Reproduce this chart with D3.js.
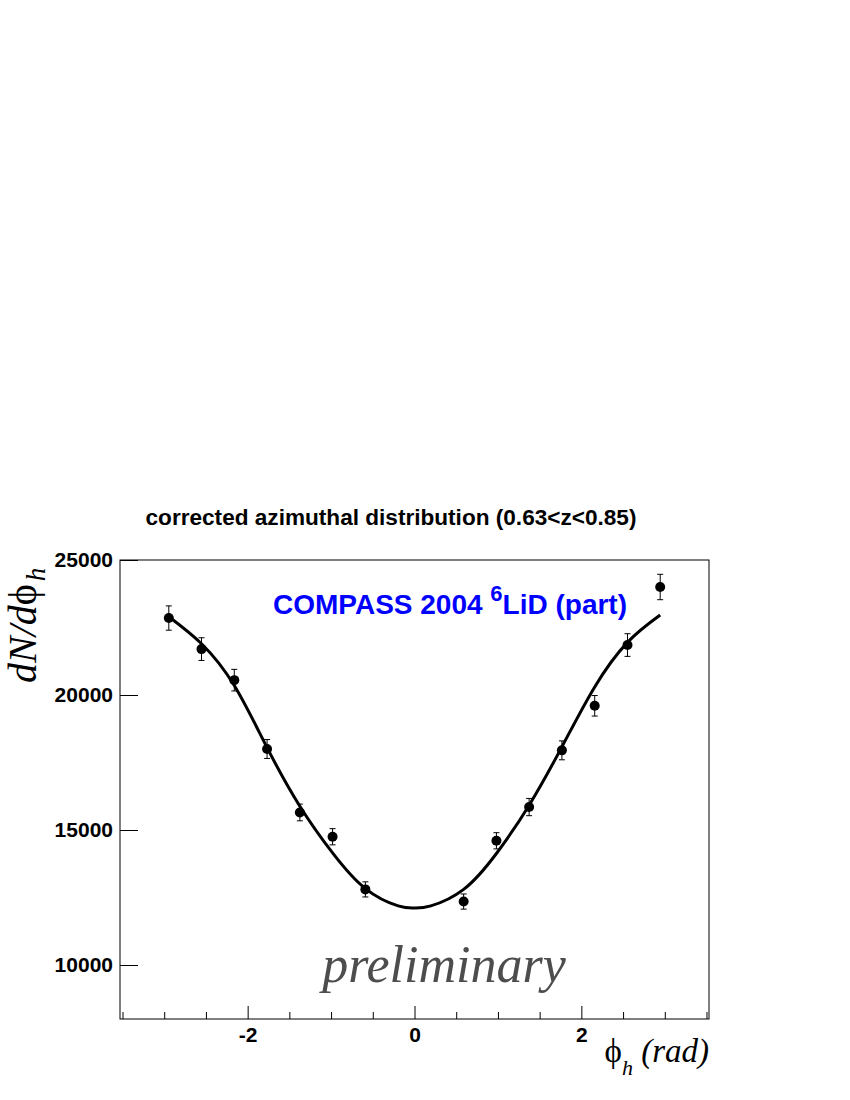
<!DOCTYPE html>
<html>
<head>
<meta charset="utf-8">
<script src="https://cdn.jsdelivr.net/npm/d3@7"></script>
<style>
  body { margin: 0; background: #fff; }
  svg { display: block; }
</style>
</head>
<body>
<svg id="chart"></svg>
<script>
// bin centres (rad), measured counts and errors
var phiBins = [-2.945, -2.553, -2.160, -1.767, -1.374, -0.982, -0.589, 0.589, 0.982, 1.374, 1.767, 2.160, 2.553, 2.945]
var counts = [22850, 21700, 20550, 18000, 15650, 14750, 12800, 12350, 14600, 15850, 17950, 19600, 21850, 24000]
var errors = [450, 420, 400, 350, 310, 300, 280, 280, 300, 320, 350, 380, 420, 470]

// fit curve
var fitPhi = [-2.945, -2.553, -2.160, -1.767, -1.374, -0.982, -0.589, -0.196, 0, 0.196, 0.589, 0.982, 1.374, 1.767, 2.160, 2.553, 2.945]
var fitVal = [22900, 21900, 20350, 18050, 15880, 14150, 12830, 12190, 12110, 12190, 12800, 14130, 15920, 18080, 20300, 21950, 22960]

var xMajor = [-2, 0, 2]
var xMinor = [-3.5, -3, -2.5, -1.5, -1, -0.5, 0.5, 1, 1.5, 2.5, 3, 3.5]
var yTicks = [10000, 15000, 20000, 25000]

var data = phiBins.map((p, i) => ({ phi: p, n: counts[i], e: errors[i] }))
var fit = fitPhi.map((p, i) => ({ phi: p, n: fitVal[i] }))

var svg = d3.select("#chart").attr("width", 850).attr("height", 1100)

var pLeft = 120, pRight = 709, pTop = 560, pBottom = 1019
var sans = "Liberation Sans, Arial, sans-serif"
var serif = "Liberation Serif, Times New Roman, serif"

var x = d3.scaleLinear().domain([-3.53, 3.53]).range([pLeft, pRight])
var y = d3.scaleLinear().domain([8000, 25000]).range([pBottom, pTop])

// title
svg.append("text")
  .attr("x", 391).attr("y", 525)
  .attr("text-anchor", "middle")
  .style("font-family", sans)
  .style("font-weight", "bold")
  .style("font-size", "22.6px")
  .text("corrected azimuthal distribution (0.63<z<0.85)")

function styleTicks(g) {
  g.select(".domain").remove()
  g.selectAll(".tick line").attr("stroke", "#000")
  g.selectAll(".tick text")
    .style("font-family", sans)
    .style("font-weight", "bold")
    .style("font-size", "21px")
    .attr("fill", "#000")
}

// x axis, ticks pointing inward
svg.append("g")
  .attr("transform", `translate(0,${pBottom})`)
  .call(d3.axisBottom(x).tickValues(xMinor).tickSize(-7).tickFormat(""))
  .call(styleTicks)

svg.append("g")
  .attr("transform", `translate(0,${pBottom})`)
  .call(d3.axisBottom(x).tickValues(xMajor).tickSize(-13).tickPadding(8).tickFormat(d => d < 0 ? "-" + Math.abs(d) : d))
  .call(styleTicks)

// y axis
svg.append("g")
  .attr("transform", `translate(${pLeft},0)`)
  .call(d3.axisLeft(y).tickValues(yTicks).tickSize(-18).tickPadding(7).tickFormat(d3.format("d")))
  .call(styleTicks)

// frame
svg.append("rect")
  .attr("x", pLeft).attr("y", pTop)
  .attr("width", pRight - pLeft).attr("height", pBottom - pTop)
  .attr("fill", "none").attr("stroke", "#000").attr("stroke-width", 1)

// preliminary
svg.append("text")
  .attr("x", 444).attr("y", 982)
  .attr("text-anchor", "middle")
  .style("font-family", serif)
  .style("font-style", "italic")
  .style("font-size", "52px")
  .style("fill", "#4d4d4d")
  .text("preliminary")

// experiment label
var lab = svg.append("text")
  .attr("x", 273).attr("y", 614)
  .style("font-family", sans)
  .style("font-weight", "bold")
  .style("font-size", "28px")
  .style("fill", "#0000ff")
lab.append("tspan").text("COMPASS 2004 ")
lab.append("tspan").attr("dy", -13).style("font-size", "22px").text("6")
lab.append("tspan").attr("dy", 13).text("LiD (part)")

// fit curve
var line = d3.line()
  .x(d => x(d.phi))
  .y(d => y(d.n))
  .curve(d3.curveNatural)

svg.append("path")
  .datum(fit)
  .attr("d", line)
  .attr("fill", "none")
  .attr("stroke", "#000")
  .attr("stroke-width", 3)

// error bars
var pts = svg.selectAll("g.pt").data(data).enter().append("g").attr("class", "pt")

pts.append("line")
  .attr("x1", d => x(d.phi)).attr("x2", d => x(d.phi))
  .attr("y1", d => y(d.n - d.e)).attr("y2", d => y(d.n + d.e))
  .attr("stroke", "#000").attr("stroke-width", 1)

pts.selectAll("line.cap")
  .data(d => [d.n - d.e, d.n + d.e].map(v => ({ phi: d.phi, v: v })))
  .enter().append("line")
  .attr("class", "cap")
  .attr("x1", d => x(d.phi) - 3).attr("x2", d => x(d.phi) + 3)
  .attr("y1", d => y(d.v)).attr("y2", d => y(d.v))
  .attr("stroke", "#000").attr("stroke-width", 1)

pts.append("circle")
  .attr("cx", d => x(d.phi))
  .attr("cy", d => y(d.n))
  .attr("r", 5)
  .attr("fill", "#000")

// y title
var yt = svg.append("text")
  .attr("transform", "translate(36,683) rotate(-90)")
  .style("font-family", serif)
  .style("font-size", "40px")
yt.append("tspan").style("font-style", "italic").text("dN/d")
yt.append("tspan").text("ϕ")
yt.append("tspan").attr("dx", 3).attr("dy", 9).style("font-style", "italic").style("font-size", "27px").text("h")

// x title
var xt = svg.append("text")
  .attr("x", 709).attr("y", 1062)
  .attr("text-anchor", "end")
  .style("font-family", serif)
  .style("font-size", "33px")
xt.append("tspan").text("ϕ")
xt.append("tspan").attr("dy", 13).style("font-style", "italic").style("font-size", "22px").text("h")
xt.append("tspan").attr("dy", -13).style("font-style", "italic").text(" (rad)")
</script>
</body>
</html>
